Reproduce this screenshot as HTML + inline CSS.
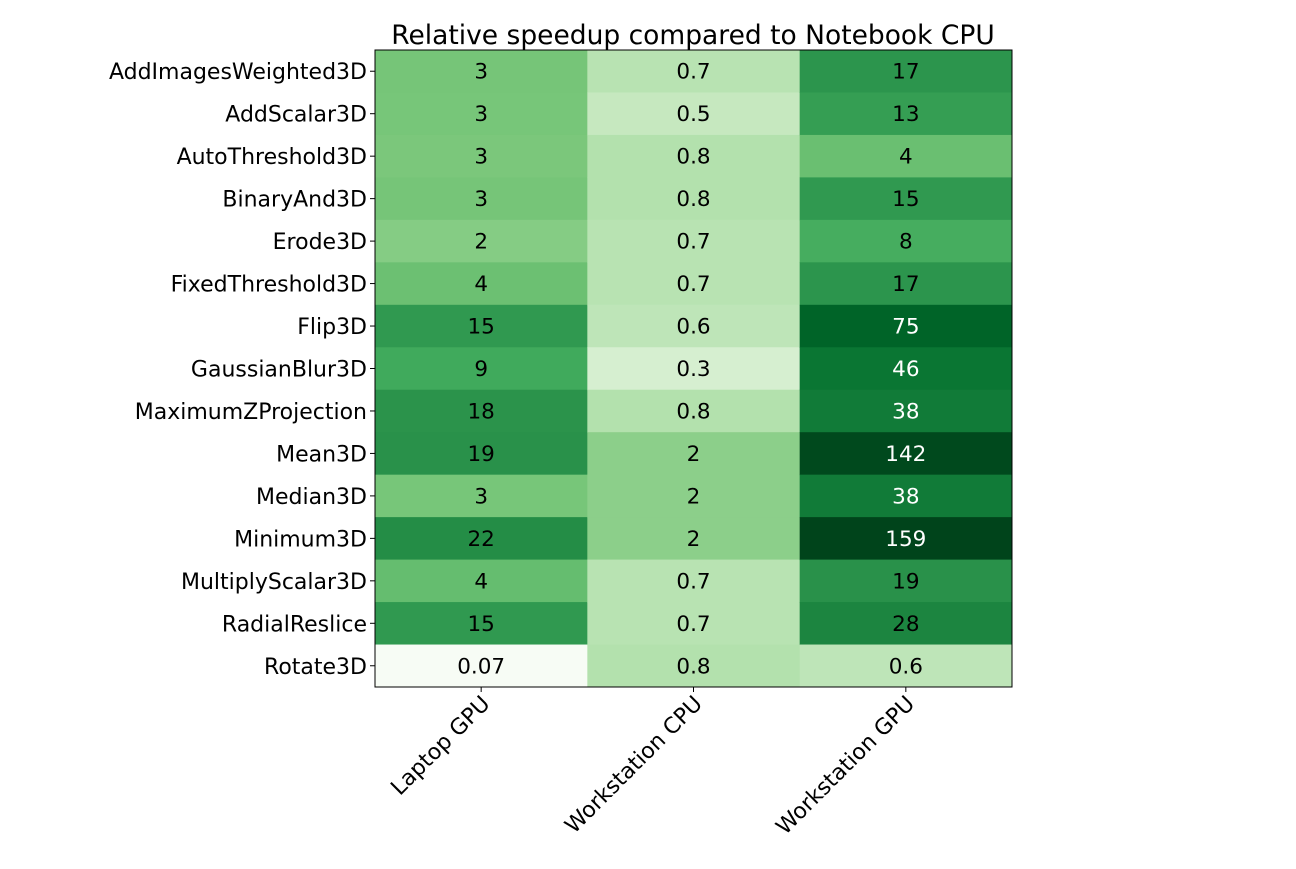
<!DOCTYPE html>
<html><head><meta charset="utf-8"><style>
body{margin:0;background:#fff;}
svg text{font-family:"DejaVu Sans","Liberation Sans",sans-serif;}
</style></head><body>
<svg id="chart" width="1296" height="864">
<text x="693" y="44" text-anchor="middle" font-size="26.5">Relative speedup compared to Notebook CPU</text>
<g id="cells"></g>
<g id="labels"></g>
<rect x="375" y="50" width="637" height="637" fill="none" stroke="#000" stroke-width="1"/>
</svg>
<script>
const rows = ["AddImagesWeighted3D","AddScalar3D","AutoThreshold3D","BinaryAnd3D","Erode3D","FixedThreshold3D","Flip3D","GaussianBlur3D","MaximumZProjection","Mean3D","Median3D","Minimum3D","MultiplyScalar3D","RadialReslice","Rotate3D"];
const cols = ["Laptop GPU","Workstation CPU","Workstation GPU"];
const laptopGPU = [3.2,3.1,2.9,3.2,2.3,3.9,15,9,18,19,3.1,22,4.4,15,0.07];
const workstationCPU = [0.7,0.5,0.8,0.8,0.7,0.7,0.6,0.3,0.8,2,2,2,0.7,0.7,0.8];
const workstationGPU = [17,13,4,15,8,17,75,46,38,142,38,159,19,28,0.6];
const labelsTxt = [
 ["3","3","3","3","2","4","15","9","18","19","3","22","4","15","0.07"],
 ["0.7","0.5","0.8","0.8","0.7","0.7","0.6","0.3","0.8","2","2","2","0.7","0.7","0.8"],
 ["17","13","4","15","8","17","75","46","38","142","38","159","19","28","0.6"]
];
const series=[laptopGPU,workstationCPU,workstationGPU];
const X0=375,Y0=50,W=637,H=637;
const cw=W/cols.length, rh=H/rows.length;
const xPos=i=>X0+i*cw, yPos=j=>Y0+j*rh;
const all=series.flat(), vmin=Math.min(...all), vmax=Math.max(...all);
const norm=v=>(Math.log(v)-Math.log(vmin))/(Math.log(vmax)-Math.log(vmin));
const stops=["#f7fcf5","#e5f5e0","#c7e9c0","#a1d99b","#74c476","#41ab5d","#238b45","#006d2c","#00441b"];
function hex(h){return [1,3,5].map(k=>parseInt(h.substr(k,2),16));}
function cmap(t){t=Math.max(0,Math.min(1,t));const p=t*8,i=Math.min(7,Math.floor(p)),f=p-i;const a=hex(stops[i]),b=hex(stops[i+1]);return "rgb("+a.map((c,k)=>Math.round(c+(b[k]-c)*f)).join(",")+")";}
const NS="http://www.w3.org/2000/svg";
const gc=document.getElementById('cells'), gl=document.getElementById('labels');
function mk(tag,attrs,parent,txt){const e=document.createElementNS(NS,tag);for(const k in attrs)e.setAttribute(k,attrs[k]);if(txt!==undefined)e.textContent=txt;parent.appendChild(e);return e;}
series.forEach((s,i)=>{s.forEach((v,j)=>{
 const t=norm(v);
 const r=mk('rect',{x:xPos(i),y:yPos(j),width:cw+0.5,height:rh+0.5,fill:cmap(t)},gc);
 
 
 const tx=mk('text',{x:xPos(i)+cw/2,y:yPos(j)+rh/2+7.5,'text-anchor':'middle','font-size':21.5,fill:t>0.8?'#fff':'#000'},gc,labelsTxt[i][j]);
 
 
});});
rows.forEach((r,j)=>{
 const y=yPos(j)+rh/2;
 const tk=mk('line',{x1:X0-5,x2:X0,y1:y,y2:y,stroke:'#000'},gl);
 
 
 const t=mk('text',{x:X0-8,y:y+8,'text-anchor':'end','font-size':22},gl,r);
 
 
});
cols.forEach((c,i)=>{
 const x=xPos(i)+cw/2;
 const tk=mk('line',{x1:x,x2:x,y1:Y0+H,y2:Y0+H+5,stroke:'#000'},gl);
 
 
 const t=mk('text',{x:x+10,y:Y0+H+18,'text-anchor':'end','font-size':22,transform:`rotate(-45 ${x+10} ${Y0+H+18})`},gl,c);
 
 
});
</script>
</body></html>
